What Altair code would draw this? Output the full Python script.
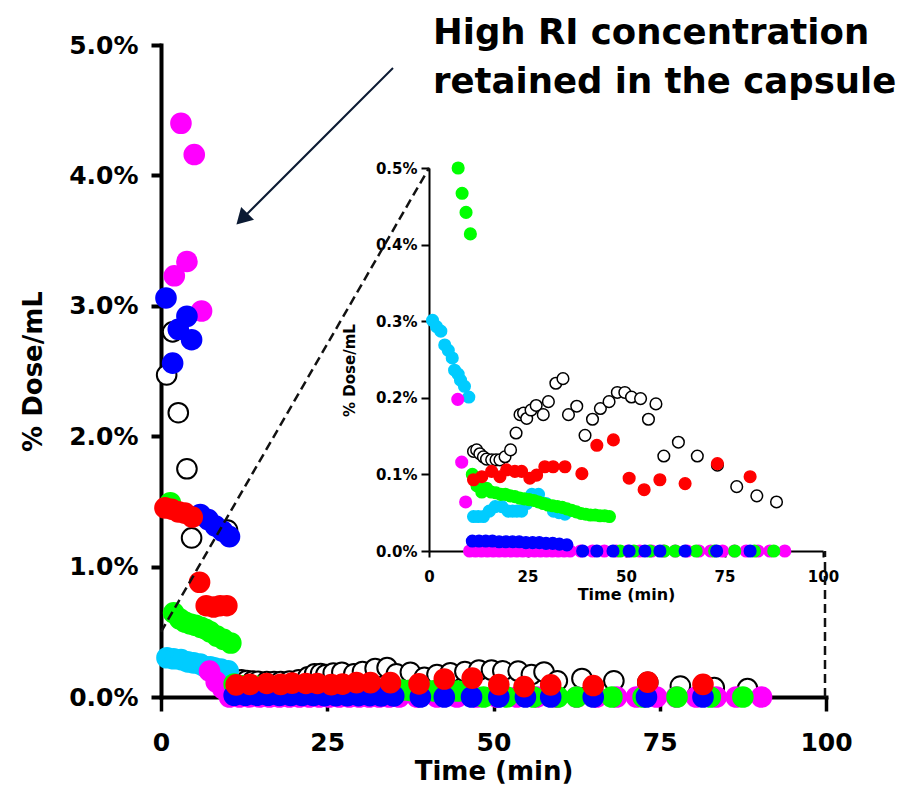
import altair as alt
import pandas as pd

FONT = "DejaVu Sans"

# Sampling times (min) and concentrations (% of dose per mL) for each run
open_t = [0.85, 1.75, 2.6, 3.9, 4.6, 10.0, 11.3, 12.1, 12.9, 13.8, 14.6, 15.9, 17.0, 18.0,
          19.3, 20.7, 22.1, 23.1, 24.0, 24.8, 25.9, 27.2, 29.0, 30.3, 32.2, 34.0, 35.4, 37.5,
          39.6, 41.5, 43.5, 45.7, 47.8, 49.7, 51.4, 53.7, 55.7, 57.6, 59.6, 63.3, 68.1, 73.2,
          78.1, 83.2, 88.2]
open_v = [2.47, 2.80, 2.18, 1.75, 1.22, 1.28, 0.130, 0.132, 0.127, 0.123, 0.120, 0.119, 0.119,
          0.119, 0.123, 0.132, 0.154, 0.178, 0.180, 0.173, 0.184, 0.190, 0.178, 0.195, 0.219,
          0.225, 0.178, 0.189, 0.151, 0.172, 0.186, 0.195, 0.207, 0.207, 0.201, 0.199, 0.172,
          0.192, 0.124, 0.142, 0.124, 0.112, 0.084, 0.072, 0.064]

cyan_t = [0.9, 1.9, 3.0, 4.0, 4.9, 5.9, 6.5, 7.4, 8.0, 9.0, 10.1, 11.3, 12.5, 13.8, 15.3, 16.8,
          18.5, 20.1, 21.2, 22.3, 23.5, 24.8, 26.1, 27.8, 29.7, 31.6, 33.0, 34.5]
cyan_v = [0.301, 0.293, 0.287, 0.269, 0.262, 0.252, 0.236, 0.231, 0.223, 0.215, 0.201, 0.045,
          0.045, 0.045, 0.052, 0.058, 0.058, 0.052, 0.052, 0.052, 0.052, 0.062, 0.074, 0.074,
          0.062, 0.052, 0.050, 0.048]

magenta_t = [2.0, 3.0, 3.9, 5.0, 6.1, 7.3, 8.3, 9.3, 10.3, 11.8, 13.3, 14.8, 16.3, 17.8, 19.3,
             20.8, 22.3, 23.8, 25.3, 26.8, 28.3, 29.8, 31.3, 32.8, 34.3, 35.8, 38.5, 41.5, 44.5,
             47.5, 50.5, 53.5, 56.5, 59.5, 62.5, 65.5, 68.5, 71.5, 74.5, 77.5, 80.5, 83.5, 86.5,
             90.3]
magenta_v = [3.23, 4.40, 3.34, 4.16, 2.96, 0.198, 0.116, 0.064, 0, 0, 0, 0, 0, 0, 0, 0, 0, 0,
             0, 0, 0, 0, 0, 0, 0, 0, 0, 0, 0, 0, 0, 0, 0, 0, 0, 0, 0, 0, 0, 0, 0, 0, 0, 0]

green_t = [1.4, 1.9, 2.8, 3.6, 4.4, 5.2, 6.0, 6.7, 7.4, 8.4, 9.4, 10.5, 11.0, 12.2, 13.4, 14.6,
           15.8, 17.0, 18.2, 19.4, 20.6, 21.8, 23.0, 24.2, 25.4, 26.6, 27.8, 29.0, 30.2, 31.4,
           32.6, 33.8, 35.0, 36.2, 37.4, 38.6, 39.8, 41.0, 42.2, 43.4, 44.6, 45.8, 48.5, 52.0,
           56.0, 59.7, 62.5, 67.8, 72.5, 77.6, 82.6, 87.5]
green_v = [1.49, 0.645, 0.60, 0.575, 0.56, 0.55, 0.535, 0.52, 0.50, 0.467, 0.442, 0.414, 0.100,
           0.085, 0.077, 0.082, 0.077, 0.076, 0.074, 0.074, 0.072, 0.071, 0.069, 0.068, 0.067,
           0.066, 0.064, 0.062, 0.060, 0.059, 0.058, 0.057, 0.055, 0.053, 0.051, 0.049, 0.048,
           0.047, 0.047, 0.046, 0.046, 0.045, 0, 0, 0, 0, 0, 0, 0, 0, 0, 0]

blue_t = [0.75, 1.75, 2.6, 3.9, 4.6, 5.9, 7.1, 8.2, 9.3, 10.3, 11.0, 12.7, 14.4, 16.1, 17.8,
          19.5, 21.2, 22.9, 24.6, 26.3, 28.0, 29.7, 31.4, 33.1, 35.0, 39.0, 42.6, 46.7, 50.8,
          54.8, 58.6, 65.0, 73.0, 81.5]
blue_v = [3.06, 2.56, 2.82, 2.92, 2.74, 1.40, 1.36, 1.31, 1.27, 1.23, 0.013, 0.013, 0.013,
          0.013, 0.012, 0.012, 0.012, 0.012, 0.011, 0.011, 0.011, 0.010, 0.010, 0.009, 0.008,
          0, 0, 0, 0, 0, 0, 0, 0, 0]

red_t = [0.6, 1.6, 2.6, 3.6, 4.7, 5.8, 6.8, 7.9, 8.9, 9.9, 11.3, 13.4, 15.9, 18.0, 19.7, 21.8,
         23.5, 25.6, 27.3, 29.4, 31.5, 34.5, 38.8, 42.6, 46.8, 50.8, 54.6, 58.6, 65.0, 73.2, 81.5]
red_v = [1.45, 1.44, 1.42, 1.41, 1.38, 0.88, 0.70, 0.69, 0.70, 0.70, 0.093, 0.097, 0.104, 0.097,
         0.106, 0.104, 0.104, 0.095, 0.099, 0.110, 0.110, 0.110, 0.101, 0.138, 0.145, 0.095,
         0.080, 0.093, 0.088, 0.114, 0.097]

# Drawing order: first listed is painted first (underneath)
SERIES = ["open", "cyan", "magenta", "green", "blue", "red"]
FILLS = ["white", "#00CCFF", "#FF00FF", "#00FF00", "#0000FF", "#FF0000"]
EDGES = ["black", "#00CCFF", "#FF00FF", "#00FF00", "#0000FF", "#FF0000"]

columns = {
    "open": (open_t, open_v), "cyan": (cyan_t, cyan_v), "magenta": (magenta_t, magenta_v),
    "green": (green_t, green_v), "blue": (blue_t, blue_v), "red": (red_t, red_v),
}
rows = []
for name in SERIES:
    ts, vs = columns[name]
    rows += [{"series": name, "t": t, "v": v} for t, v in zip(ts, vs)]
df = pd.DataFrame(rows)

ANNOTATION = ["High RI concentration", "retained in the capsule"]

# Geometry of the main plot and the zoomed inset (pixels inside the plot area)
W, H = 665, 652
X_DOMAIN = [0, 100]
MAIN_Y_DOMAIN = [0, 5]
INSET_Y_DOMAIN = [0, 0.5]
INSET_X_RANGE = [268, 662]
INSET_Y_RANGE = [506, 123]


def main_px(t, v):
    return (t - X_DOMAIN[0]) / (X_DOMAIN[1] - X_DOMAIN[0]) * W, H - v / MAIN_Y_DOMAIN[1] * H


def inset_px(t, v):
    x0, x1 = INSET_X_RANGE
    y0, y1 = INSET_Y_RANGE
    return (x0 + (t - X_DOMAIN[0]) / (X_DOMAIN[1] - X_DOMAIN[0]) * (x1 - x0),
            y0 + v / INSET_Y_DOMAIN[1] * (y1 - y0))


fill = alt.Fill("series:N", scale=alt.Scale(domain=SERIES, range=FILLS), legend=None)
stroke = alt.Stroke("series:N", scale=alt.Scale(domain=SERIES, range=EDGES), legend=None)
pct = "format(datum.value, '.1f') + '%'"

main_points = alt.Chart(df).mark_circle(size=385, opacity=1, strokeWidth=2).encode(
    x=alt.X("t:Q", title="Time (min)",
            scale=alt.Scale(domain=X_DOMAIN, nice=False, zero=False),
            axis=alt.Axis(values=[0, 25, 50, 75, 100], format="d", labelFontSize=25,
                          labelPadding=19, labelFlush=False, labelOverlap=False, tickSize=14,
                          tickWidth=3.5, domainWidth=4, domainCap="square",
                          titleFontSize=26, titlePadding=3)),
    y=alt.Y("v:Q", title="% Dose/mL",
            scale=alt.Scale(domain=MAIN_Y_DOMAIN, nice=False),
            axis=alt.Axis(values=[0, 1, 2, 3, 4, 5], labelExpr=pct, labelFontSize=25,
                          labelPadding=13, tickSize=10, tickWidth=4, domainWidth=4,
                          domainCap="square", titleFontSize=26, titlePadding=22)),
    fill=fill, stroke=stroke,
)

one = pd.DataFrame({"k": [0]})

# Dashed connectors from the zoomed region to the inset frame
zx0, zy0 = main_px(0, INSET_Y_DOMAIN[1])
ix0, iy0 = inset_px(0, INSET_Y_DOMAIN[1])
bx0, by0 = main_px(X_DOMAIN[1], 0)
bx1, by1 = inset_px(X_DOMAIN[1], 0)
connector_diag = alt.Chart(one).mark_rule(strokeDash=[9, 5], strokeWidth=2.5, color="#111").encode(
    x=alt.value(zx0), y=alt.value(zy0), x2=alt.value(ix0), y2=alt.value(iy0))
connector_vert = alt.Chart(one).mark_rule(strokeDash=[9, 5], strokeWidth=2.5, color="#111").encode(
    x=alt.value(bx0 - 1), y=alt.value(by0), x2=alt.value(bx0 - 1), y2=alt.value(by1))

# Callout text and arrow
callout = alt.Chart(one).mark_text(
    text=ANNOTATION, font=FONT, fontWeight="bold", fontSize=35.5, align="left",
    baseline="alphabetic", lineHeight=49, color="black").encode(
    x=alt.value(272), y=alt.value(-1))
arrow_line = alt.Chart(one).mark_rule(strokeWidth=2, color="#0b1a33").encode(
    x=alt.value(232), y=alt.value(23), x2=alt.value(84), y2=alt.value(171))
arrow_head = alt.Chart(one).mark_point(
    shape="triangle-up", filled=True, size=330, angle=225, opacity=1, color="#0b1a33").encode(
    x=alt.value(81), y=alt.value(174))

main_group = alt.layer(main_points, connector_diag, connector_vert, arrow_line, arrow_head, callout)

inset_points = alt.Chart(df).transform_filter(
    f"datum.v <= {INSET_Y_DOMAIN[1]}"
).mark_circle(size=135, opacity=1, strokeWidth=1.5).encode(
    x=alt.X("t:Q", title="Time (min)",
            scale=alt.Scale(domain=X_DOMAIN, range=INSET_X_RANGE, nice=False, zero=False),
            axis=alt.Axis(orient="bottom", offset=INSET_Y_RANGE[0] - H,
                          values=[0, 25, 50, 75, 100], format="d", labelFontSize=15,
                          labelPadding=12, labelFlush=False, labelOverlap=False, tickSize=6,
                          tickWidth=2, domainWidth=2, titleFontSize=16, titlePadding=2)),
    y=alt.Y("v:Q", title="% Dose/mL",
            scale=alt.Scale(domain=INSET_Y_DOMAIN, range=INSET_Y_RANGE, nice=False),
            axis=alt.Axis(orient="left", offset=-INSET_X_RANGE[0],
                          values=[0, 0.1, 0.2, 0.3, 0.4, 0.5], labelExpr=pct, labelFontSize=15,
                          labelPadding=4, tickSize=8, tickWidth=2, domainWidth=2,
                          titleFontSize=15, titlePadding=18, titleY=325)),
    fill=fill, stroke=stroke,
)

chart = alt.layer(main_group, inset_points).resolve_scale(
    x="independent", y="independent"
).properties(
    width=W, height=H,
    autosize=alt.AutoSizeParams(type="none"),
    padding={"left": 161, "top": 45, "right": 902 - 161 - W, "bottom": 789 - 45 - H},
).configure_view(stroke=None).configure_axis(
    grid=False, labelFont=FONT, titleFont=FONT, labelFontWeight="bold",
    titleFontWeight="bold", labelColor="black", titleColor="black",
    tickColor="black", domainColor="black",
)

chart.save("out.html", embed_options={"renderer": "svg", "actions": False})
